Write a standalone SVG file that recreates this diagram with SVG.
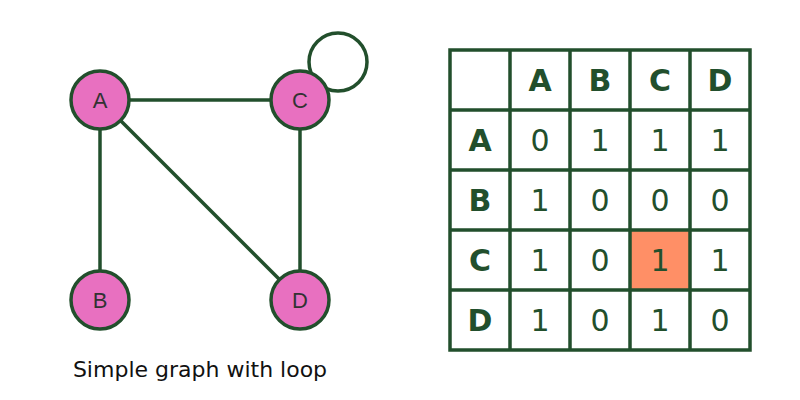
<svg xmlns="http://www.w3.org/2000/svg" width="800" height="400" viewBox="0 0 800 400">
<style>
.e{stroke:#224f2c;stroke-width:3.5;fill:none}
.n circle{fill:#e870c0;stroke:#224f2c;stroke-width:3.5}
.n text{font-family:"Liberation Sans",Arial,sans-serif;font-size:22px;fill:#333;text-anchor:middle;dominant-baseline:central}
.t{font-family:"DejaVu Sans",sans-serif;font-size:22px;fill:#224f2c;text-anchor:middle;dominant-baseline:central}
.h{font-weight:bold}
.g{stroke:#224f2c;stroke-width:3.5;fill:none}
</style>
<rect width="800" height="400" fill="#fff"/>
<g id="connectors">
<line class="e" x1="100" y1="100" x2="300" y2="100"/>
<line class="e" x1="100" y1="100" x2="100" y2="300"/>
<line class="e" x1="100" y1="100" x2="300" y2="300"/>
<line class="e" x1="300" y1="100" x2="300" y2="300"/>
<circle class="e" cx="338" cy="62" r="29"/>
</g>
<g id="A" class="n"><circle cx="100" cy="100" r="29"/><text x="100" y="100">A</text></g>
<g id="C" class="n"><circle cx="300" cy="100" r="29"/><text x="300" y="100">C</text></g>
<g id="B" class="n"><circle cx="100" cy="300" r="29"/><text x="100" y="300">B</text></g>
<g id="D" class="n"><circle cx="300" cy="300" r="29"/><text x="300" y="300">D</text></g>
<text x="200" y="369" font-family="DejaVu Sans,sans-serif" font-size="22" fill="#111" text-anchor="middle" dominant-baseline="central" style="font-size:16px;font-size:22px">Simple graph with loop</text>
<g id="table">
<rect x="630" y="230" width="60" height="60" fill="#ff8f66"/>
<rect class="g" x="450" y="50" width="300" height="300"/>
<path class="g" d="M510 50V350M570 50V350M630 50V350M690 50V350M450 110H750M450 170H750M450 230H750M450 290H750"/>
<g class="t h" style="font-size:30px">
<text x="540" y="80">A</text><text x="600" y="80">B</text><text x="660" y="80">C</text><text x="720" y="80">D</text>
<text x="480" y="140">A</text><text x="480" y="200">B</text><text x="480" y="260">C</text><text x="480" y="320">D</text>
</g>
<g class="t" style="font-size:30px">
<text x="540" y="140">0</text><text x="600" y="140">1</text><text x="660" y="140">1</text><text x="720" y="140">1</text>
<text x="540" y="200">1</text><text x="600" y="200">0</text><text x="660" y="200">0</text><text x="720" y="200">0</text>
<text x="540" y="260">1</text><text x="600" y="260">0</text><text x="660" y="260">1</text><text x="720" y="260">1</text>
<text x="540" y="320">1</text><text x="600" y="320">0</text><text x="660" y="320">1</text><text x="720" y="320">0</text>
</g>
</g>
</svg>
